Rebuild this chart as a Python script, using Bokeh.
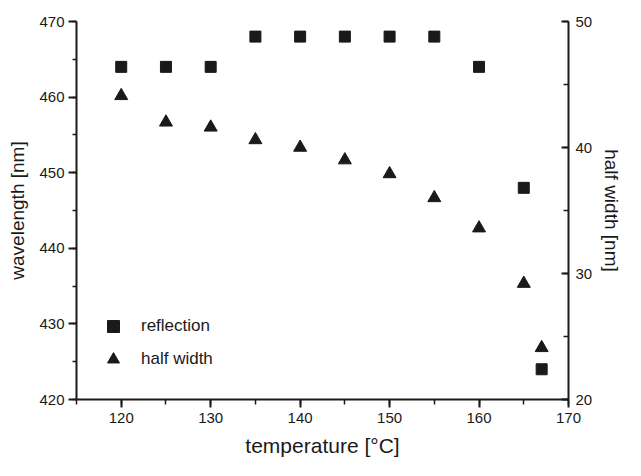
from bokeh.plotting import figure
from bokeh.models import Range1d, LinearAxis, SingleIntervalTicker, Legend, LegendItem
from bokeh.embed import file_html
from bokeh.resources import INLINE

temperature = [120, 125, 130, 135, 140, 145, 150, 155, 160, 165, 167]
reflection = [464, 464, 464, 468, 468, 468, 468, 468, 464, 448, 424]
half_width = [44.1, 42.0, 41.6, 40.6, 40.0, 39.0, 37.9, 36.0, 33.6, 29.2, 24.1]

FONT = "Liberation Sans"
INK = "#1a1a1a"

p = figure(width=625, height=460, output_backend="svg", toolbar_location=None,
           x_range=Range1d(115, 170), y_range=Range1d(420, 470),
           min_border_left=76, min_border_right=53, min_border_top=21, min_border_bottom=61)
p.outline_line_color = None
p.xgrid.visible = False
p.ygrid.visible = False
p.extra_y_ranges = {"hw": Range1d(20, 50)}

sq = p.scatter(temperature, reflection, marker="square", size=11, color=INK)
tri = p.scatter(temperature, half_width, marker="triangle", size=13, color=INK, y_range_name="hw")

right = LinearAxis(y_range_name="hw", axis_label="half width [nm]")
p.add_layout(right, "right")

p.xaxis.ticker = SingleIntervalTicker(interval=10, num_minor_ticks=2)
p.yaxis[0].ticker = SingleIntervalTicker(interval=10, num_minor_ticks=2)
right.ticker = SingleIntervalTicker(interval=10, num_minor_ticks=2)
p.xaxis.axis_label = "temperature [°C]"
p.yaxis[0].axis_label = "wavelength [nm]"

for ax in [p.xaxis[0], p.yaxis[0], right]:
    ax.axis_line_width = 2
    ax.axis_line_color = INK
    ax.major_tick_line_width = 2
    ax.minor_tick_line_width = 1.5
    ax.major_tick_line_color = INK
    ax.minor_tick_line_color = INK
    ax.major_label_text_font = FONT
    ax.major_label_text_font_size = "15px"
    ax.major_label_text_color = INK
    ax.axis_label_text_font = FONT
    ax.axis_label_text_font_size = "19px"
    ax.axis_label_text_font_style = "normal"
    ax.axis_label_text_color = INK

p.xaxis.axis_label_text_font_size = "21px"

p.xaxis.major_tick_out = 8
p.xaxis.major_tick_in = 0
p.xaxis.minor_tick_out = 5
p.xaxis.minor_tick_in = 0
p.xaxis.major_label_standoff = 5
p.xaxis.axis_label_standoff = 8

p.yaxis[0].major_tick_out = 8
p.yaxis[0].major_tick_in = 0
p.yaxis[0].minor_tick_out = 4
p.yaxis[0].minor_tick_in = 0
p.yaxis[0].major_label_standoff = 4
p.yaxis[0].axis_label_standoff = 8

right.major_tick_out = 0
right.major_tick_in = 7
right.minor_tick_out = 0
right.minor_tick_in = 5
right.major_label_standoff = 7
right.axis_label_standoff = 6

legend = Legend(items=[LegendItem(label="reflection", renderers=[sq]),
                       LegendItem(label="half width", renderers=[tri])],
                location=(22, 25), margin=0, padding=0, spacing=3,
                glyph_width=30, glyph_height=30, label_standoff=13,
                label_text_font=FONT, label_text_font_size="17px", label_text_color=INK,
                border_line_color=None, background_fill_alpha=0)
p.add_layout(legend, "center")

open("out.html", "w").write(file_html(p, INLINE))
